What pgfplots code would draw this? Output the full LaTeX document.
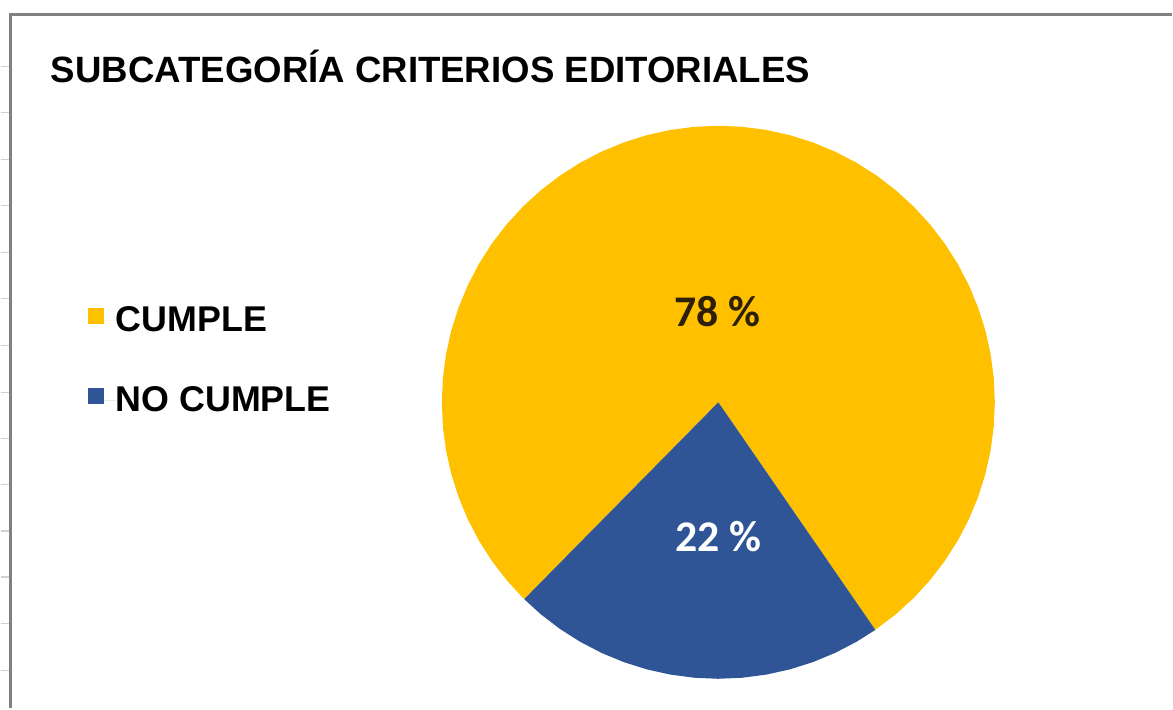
\documentclass[border=0pt]{standalone}
\usepackage{fontspec}
\setmainfont{Liberation Sans}
\newfontfamily\calibri{Carlito}
\usepackage{pgfplots}
\pgfplotsset{compat=1.18}
\usepgfplotslibrary{polar}
\definecolor{cumple}{HTML}{FFC000}
\definecolor{nocumple}{HTML}{2F5597}
\definecolor{lab}{HTML}{2E2008}
\definecolor{frame}{HTML}{808080}
\begin{document}
\begin{tikzpicture}
\begin{axis}[
  x=0.5bp, y=0.5bp,
  xmin=-719, xmax=454, ymin=-306, ymax=403,
  hide axis, clip=false,
  data cs=polar,
  legend style={at={(axis cs:-632,96)}, anchor=north west, draw=none, fill=none,
    inner sep=0pt, row sep=26bp, font=\bfseries\fontsize{18}{21}\selectfont,
    nodes={inner sep=0pt}},
  legend cell align=left,
  legend image code/.code={\fill[#1] (0bp,-1.5bp) rectangle (8bp,6.5bp); \path (0bp,0bp) -- (14bp,0bp);},
]
\path (axis cs:-719,-306) rectangle (axis cs:454,403);
% frame
\draw[frame, line width=1.5bp, line cap=butt] (axis cs:-709,-306) -- (axis cs:-709,388) -- (axis cs:454,388);
\pgfplotsinvokeforeach{336,290,243,197,150,104,57,10,-36,-82,-129,-175,-222,-269}{
  \draw[black!18, line width=0.6bp] (axis cs:-719,#1) -- (axis cs:-711,#1);
}
% pie
\addplot[fill=cumple, draw=none] coordinates {
 (0,0) (304.6,277) (310,277) (315,277) (320,277) (325,277) (330,277) (335,277) (340,277)
 (345,277) (350,277) (355,277) (360,277) (365,277) (370,277) (375,277) (380,277)
 (385,277) (390,277) (395,277) (400,277) (405,277) (410,277) (415,277) (420,277)
 (425,277) (430,277) (435,277) (440,277) (445,277) (450,277) (455,277) (460,277)
 (465,277) (470,277) (475,277) (480,277) (485,277) (490,277) (495,277) (500,277)
 (505,277) (510,277) (515,277) (520,277) (525,277) (530,277) (535,277) (540,277)
 (545,277) (550,277) (555,277) (560,277) (565,277) (570,277) (575,277) (580,277)
 (585,277) (585.4,277) (0,0)};
\addlegendentry{CUMPLE}
\addplot[fill=nocumple, draw=none] coordinates {
 (0,0) (225.4,277) (230,277) (235,277) (240,277) (245,277) (250,277) (255,277) (260,277)
 (265,277) (270,277) (275,277) (280,277) (285,277) (290,277) (295,277) (300,277)
 (304.6,277) (0,0)};
\addlegendentry{NO CUMPLE}
% labels
\node[font=\calibri\bfseries\fontsize{22}{26}\selectfont, text=lab] at (axis cs:-1,91) {78 \%};
\node[font=\calibri\bfseries\fontsize{22}{26}\selectfont, text=white] at (axis cs:0,-135) {22 \%};
% title
\node[anchor=base west, inner sep=0pt, font=\bfseries\fontsize{18.4}{22}\selectfont] at (axis cs:-669,320) {SUBCATEGORÍA CRITERIOS EDITORIALES};
\end{axis}
\end{tikzpicture}
\end{document}
